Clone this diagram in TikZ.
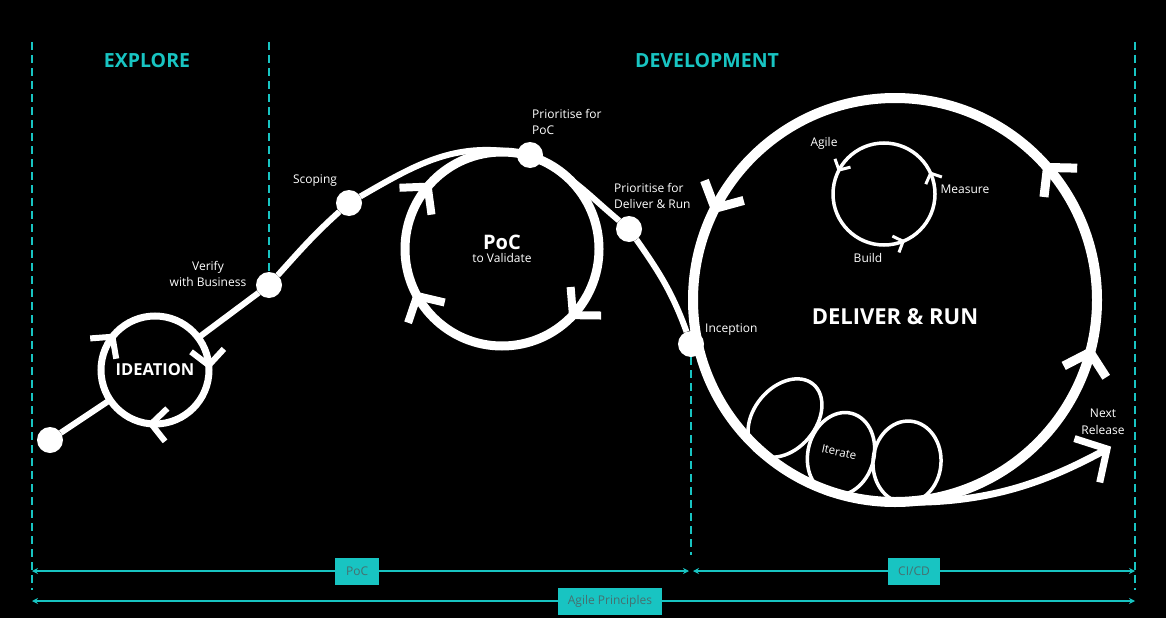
\documentclass[tikz,border=0pt]{standalone}
\usepackage{fontspec}
\setmainfont{Open Sans}
\usetikzlibrary{arrows.meta, positioning, calc}
\definecolor{devcyan}{RGB}{24,196,194}
\definecolor{boxtext}{RGB}{70,112,112}

\begin{document}
\begin{tikzpicture}[
  x=1pt, y=1pt,
  flow/.style    = {white, line width=6pt},
  dot/.style     = {circle, fill=white, minimum size=26pt, inner sep=0pt, outer sep=0pt},
  ring/.style    = {circle, draw=white, inner sep=0pt, outer sep=0pt,
                    text=white, align=center},
  chevron/.style = {white, line cap=butt},
  iter/.style    = {white, line width=3.5pt},
  lbl/.style     = {text=white, font=\fontsize{12}{16.5}\selectfont, inner sep=1pt},
  head/.style    = {text=devcyan, font=\fontsize{19.5}{22}\selectfont\bfseries},
  divider/.style = {devcyan, line width=1.5pt, dash pattern=on 8pt off 5pt},
  ruler/.style   = {devcyan, line width=2pt,
                    {Stealth[length=6pt,width=6pt]}-{Stealth[length=6pt,width=6pt]}},
  rulebox/.style = {fill=devcyan, text=boxtext, font=\fontsize{12}{14}\selectfont,
                    minimum height=27pt, minimum width=44pt, inner xsep=10pt},
  pics/chev/.style = {code={\draw[chevron] (-1,1.1) -- (0,0) -- (-1,-1.1);}},
]

% ---------- background ----------
\fill[black] (0,0) rectangle (1166,-618);
\useasboundingbox (0,0) rectangle (1166,-618);

% ---------- headings ----------
\node[head] (explore) at (147,-61) {EXPLORE};
\node[head] (develop) at (707,-61) {DEVELOPMENT};

% ---------- loops ----------
\node[ring, minimum size=108pt, line width=7pt,
      font=\fontsize{16.5}{18}\selectfont\bfseries] (ideation) at (155,-370) {IDEATION};
\node[ring, minimum size=194pt, line width=9pt] (poc) at (502,-249)
     {{\fontsize{20}{22}\selectfont\bfseries PoC}\\[1pt]{\fontsize{12}{14}\selectfont to Validate}};
\node[ring, minimum size=404pt, line width=10pt] (deliver) at (895,-300) {};
\node[ring, minimum size=102pt, line width=3.5pt] (agile) at (884,-194) {};
\node[text=white, font=\fontsize{22}{24}\selectfont\bfseries] (drTxt) at (895,-317) {DELIVER \& RUN};

% ---------- stations on the path ----------
\node[dot] (start)     at (50,-440)  {};
\node[dot] (verify)    at (269,-285) {};
\node[dot] (scoping)   at (349,-203) {};
\node[dot] (pfpoc)     at (530,-155) {};
\node[dot] (pfdr)      at (629,-229) {};
\node[dot] (inception) at (691,-344) {};
\coordinate (relTip) at (1107,-449);

% ---------- main path ----------
\draw[flow] (start) -- (ideation);
\draw[flow] (ideation) -- (verify);
\draw[flow] (verify) to[out=48, in=222] (scoping);
\draw[flow] (scoping) to[out=30, in=170] (pfpoc);
\draw[flow] (pfpoc) to[out=-28, in=140] (pfdr);
\draw[flow] (pfdr) to[out=-55, in=110] (inception);
\draw[flow, line width=7pt] (deliver.-90) .. controls (990,-505) and (1050,-480) .. (relTip);
\pic[rotate=30, scale=23, line width=7pt] at (relTip) {chev};

% ---------- direction chevrons ----------
\foreach \a/\r in {142/52, 5/-85, 266/176}{
  \pic[rotate=\r, scale=15, line width=6pt] at (ideation.\a) {chev};
}
\foreach \a/\r in {140/50, -43/-133, 209/119}{
  \pic[rotate=\r, scale=19, line width=8pt] at (poc.\a) {chev};
}
\foreach \a/\r in {153/243, 41/131, -15/75}{
  \pic[rotate=\r, scale=20, line width=9pt] at (deliver.\a) {chev};
}
\foreach \a/\r in {152/242, 24/114, -68/22}{
  \pic[rotate=\r, scale=8, line width=3pt] at (agile.\a) {chev};
}

% ---------- iterate bubbles ----------
\draw[iter, rotate around={50:(785,-418)}] (785,-418) ellipse[x radius=44, y radius=31];
\draw[iter, rotate around={75:(841,-454)}] (841,-454) ellipse[x radius=42, y radius=33];
\draw[iter, rotate around={85:(907,-462)}] (907,-462) ellipse[x radius=41, y radius=34];
\node[lbl, rotate=-12, font=\fontsize{11.5}{14}\selectfont] (iterTxt) at (839,-452) {Iterate};

% ---------- labels ----------
\node[lbl, align=center] (verifyTxt) at (208,-274) {Verify\\with Business};
\node[lbl] (scopTxt) at (315,-181) {Scoping};
\node[lbl, align=left, anchor=west] (pfpocTxt) at (531,-122) {Prioritise for\\PoC};
\node[lbl, align=left, anchor=west] (pfdrTxt) at (613,-196) {Prioritise for\\Deliver \& Run};
\node[lbl, anchor=west] (incTxt) at (704,-330) {Inception};
\node[lbl, align=center] (relTxt) at (1103,-422) {Next\\Release};
\node[lbl] (agileTxt) at (824,-143) {Agile};
\node[lbl] (measTxt) at (965,-189) {Measure};
\node[lbl] (buildTxt) at (868,-258) {Build};

% ---------- phase dividers ----------
\coordinate (divL0) at (32,-42);   \coordinate (divL1) at (32,-590);
\coordinate (divM0) at (269,-42);
\coordinate (divD1) at (691,-555);
\coordinate (divR0) at (1135,-42); \coordinate (divR1) at (1135,-590);
\draw[divider] (divL0) -- (divL1);
\draw[divider] (divM0) -- (verify);
\draw[divider] (inception) -- (divD1);
\draw[divider] (divR0) -- (divR1);

% ---------- rulers ----------
\coordinate (rulA) at (32,-571);  \coordinate (rulB) at (689,-571);
\coordinate (rulC) at (693,-571); \coordinate (rulD) at (1135,-571);
\coordinate (rulE) at (32,-601);  \coordinate (rulF) at (1135,-601);
\draw[ruler] (rulA) -- (rulB) node[rulebox, pos=0.495] (pocBox) {PoC};
\draw[ruler] (rulC) -- (rulD) node[rulebox, pos=0.5] (cicdBox) {CI/CD};
\draw[ruler] (rulE) -- (rulF) node[rulebox, pos=0.524] (agileBox) {Agile Principles};

\end{tikzpicture}
\end{document}
